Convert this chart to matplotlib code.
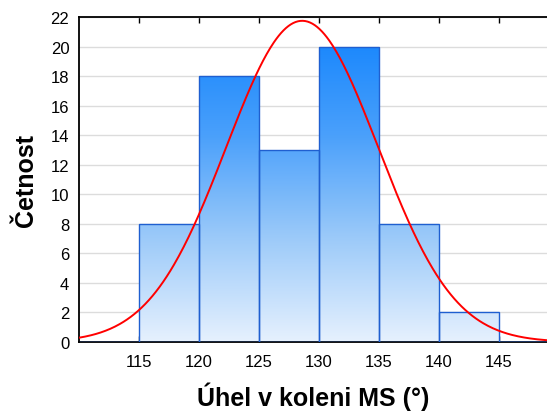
import numpy as np
import matplotlib
matplotlib.use("Agg")
import matplotlib.pyplot as plt
from matplotlib.colors import LinearSegmentedColormap

plt.rcParams["font.family"] = ["Liberation Sans", "DejaVu Sans"]

# histogram of knee angle
bin_edges = [110, 115, 120, 125, 130, 135, 140, 145, 150]
counts = [0, 8, 18, 13, 20, 8, 2, 0]
# fitted normal curve parameters
fit_mean = 128.6
fit_sd = 6.33
n_total = sum(counts)
bin_width = 5

x_ticks = [115, 120, 125, 130, 135, 140, 145]
y_ticks = list(range(0, 23, 2))

fig = plt.figure(figsize=(5.47, 4.14), dpi=100)
ax = fig.add_axes([0.1444, 0.1715, 0.8556, 0.785])

lefts = np.array(bin_edges[:-1])
bars = ax.bar(lefts, counts, width=bin_width, align="edge",
              facecolor="none", edgecolor="#1f5fd0", linewidth=1.0, zorder=3)

# vertical gradient, light at bottom, saturated blue at top
cmap = LinearSegmentedColormap.from_list("bl", ["#e6f1fe", "#9ccaf9", "#4aa0fb", "#1585fd"])
grad = np.linspace(0, 1, 256).reshape(-1, 1)
for b in bars:
    if b.get_height() <= 0:
        continue
    im = ax.imshow(grad, cmap=cmap, origin="lower", aspect="auto",
                   extent=[110, 150, 0, 21], zorder=2)
    im.set_clip_path(b)

xs = np.linspace(110, 150, 400)
ys = n_total * bin_width * np.exp(-0.5 * ((xs - fit_mean) / fit_sd) ** 2) / (fit_sd * np.sqrt(2 * np.pi))
ax.plot(xs, ys, color="#ff0000", linewidth=1.4, zorder=4)

ax.set_xlim(110, 149)
ax.set_ylim(0, 22)
ax.set_xticks(x_ticks)
ax.set_yticks(y_ticks)
ax.yaxis.grid(True, color="#dcdcdc", linewidth=1.0, zorder=0)
ax.set_axisbelow(True)

ax.tick_params(axis="x", direction="in", length=4, width=1, top=True, labelsize=12, pad=9, colors="black")
ax.tick_params(axis="y", length=0, labelsize=12, pad=7)
for s in ["left", "top", "bottom"]:
    ax.spines[s].set_linewidth(1.3)
ax.spines["right"].set_visible(False)

ax.set_xlabel("Úhel v koleni MS (°)", fontsize=18, fontweight="bold", labelpad=9)
ax.set_ylabel("Četnost", fontsize=18, fontweight="bold", labelpad=9)

fig.savefig("out.png", dpi=100)
